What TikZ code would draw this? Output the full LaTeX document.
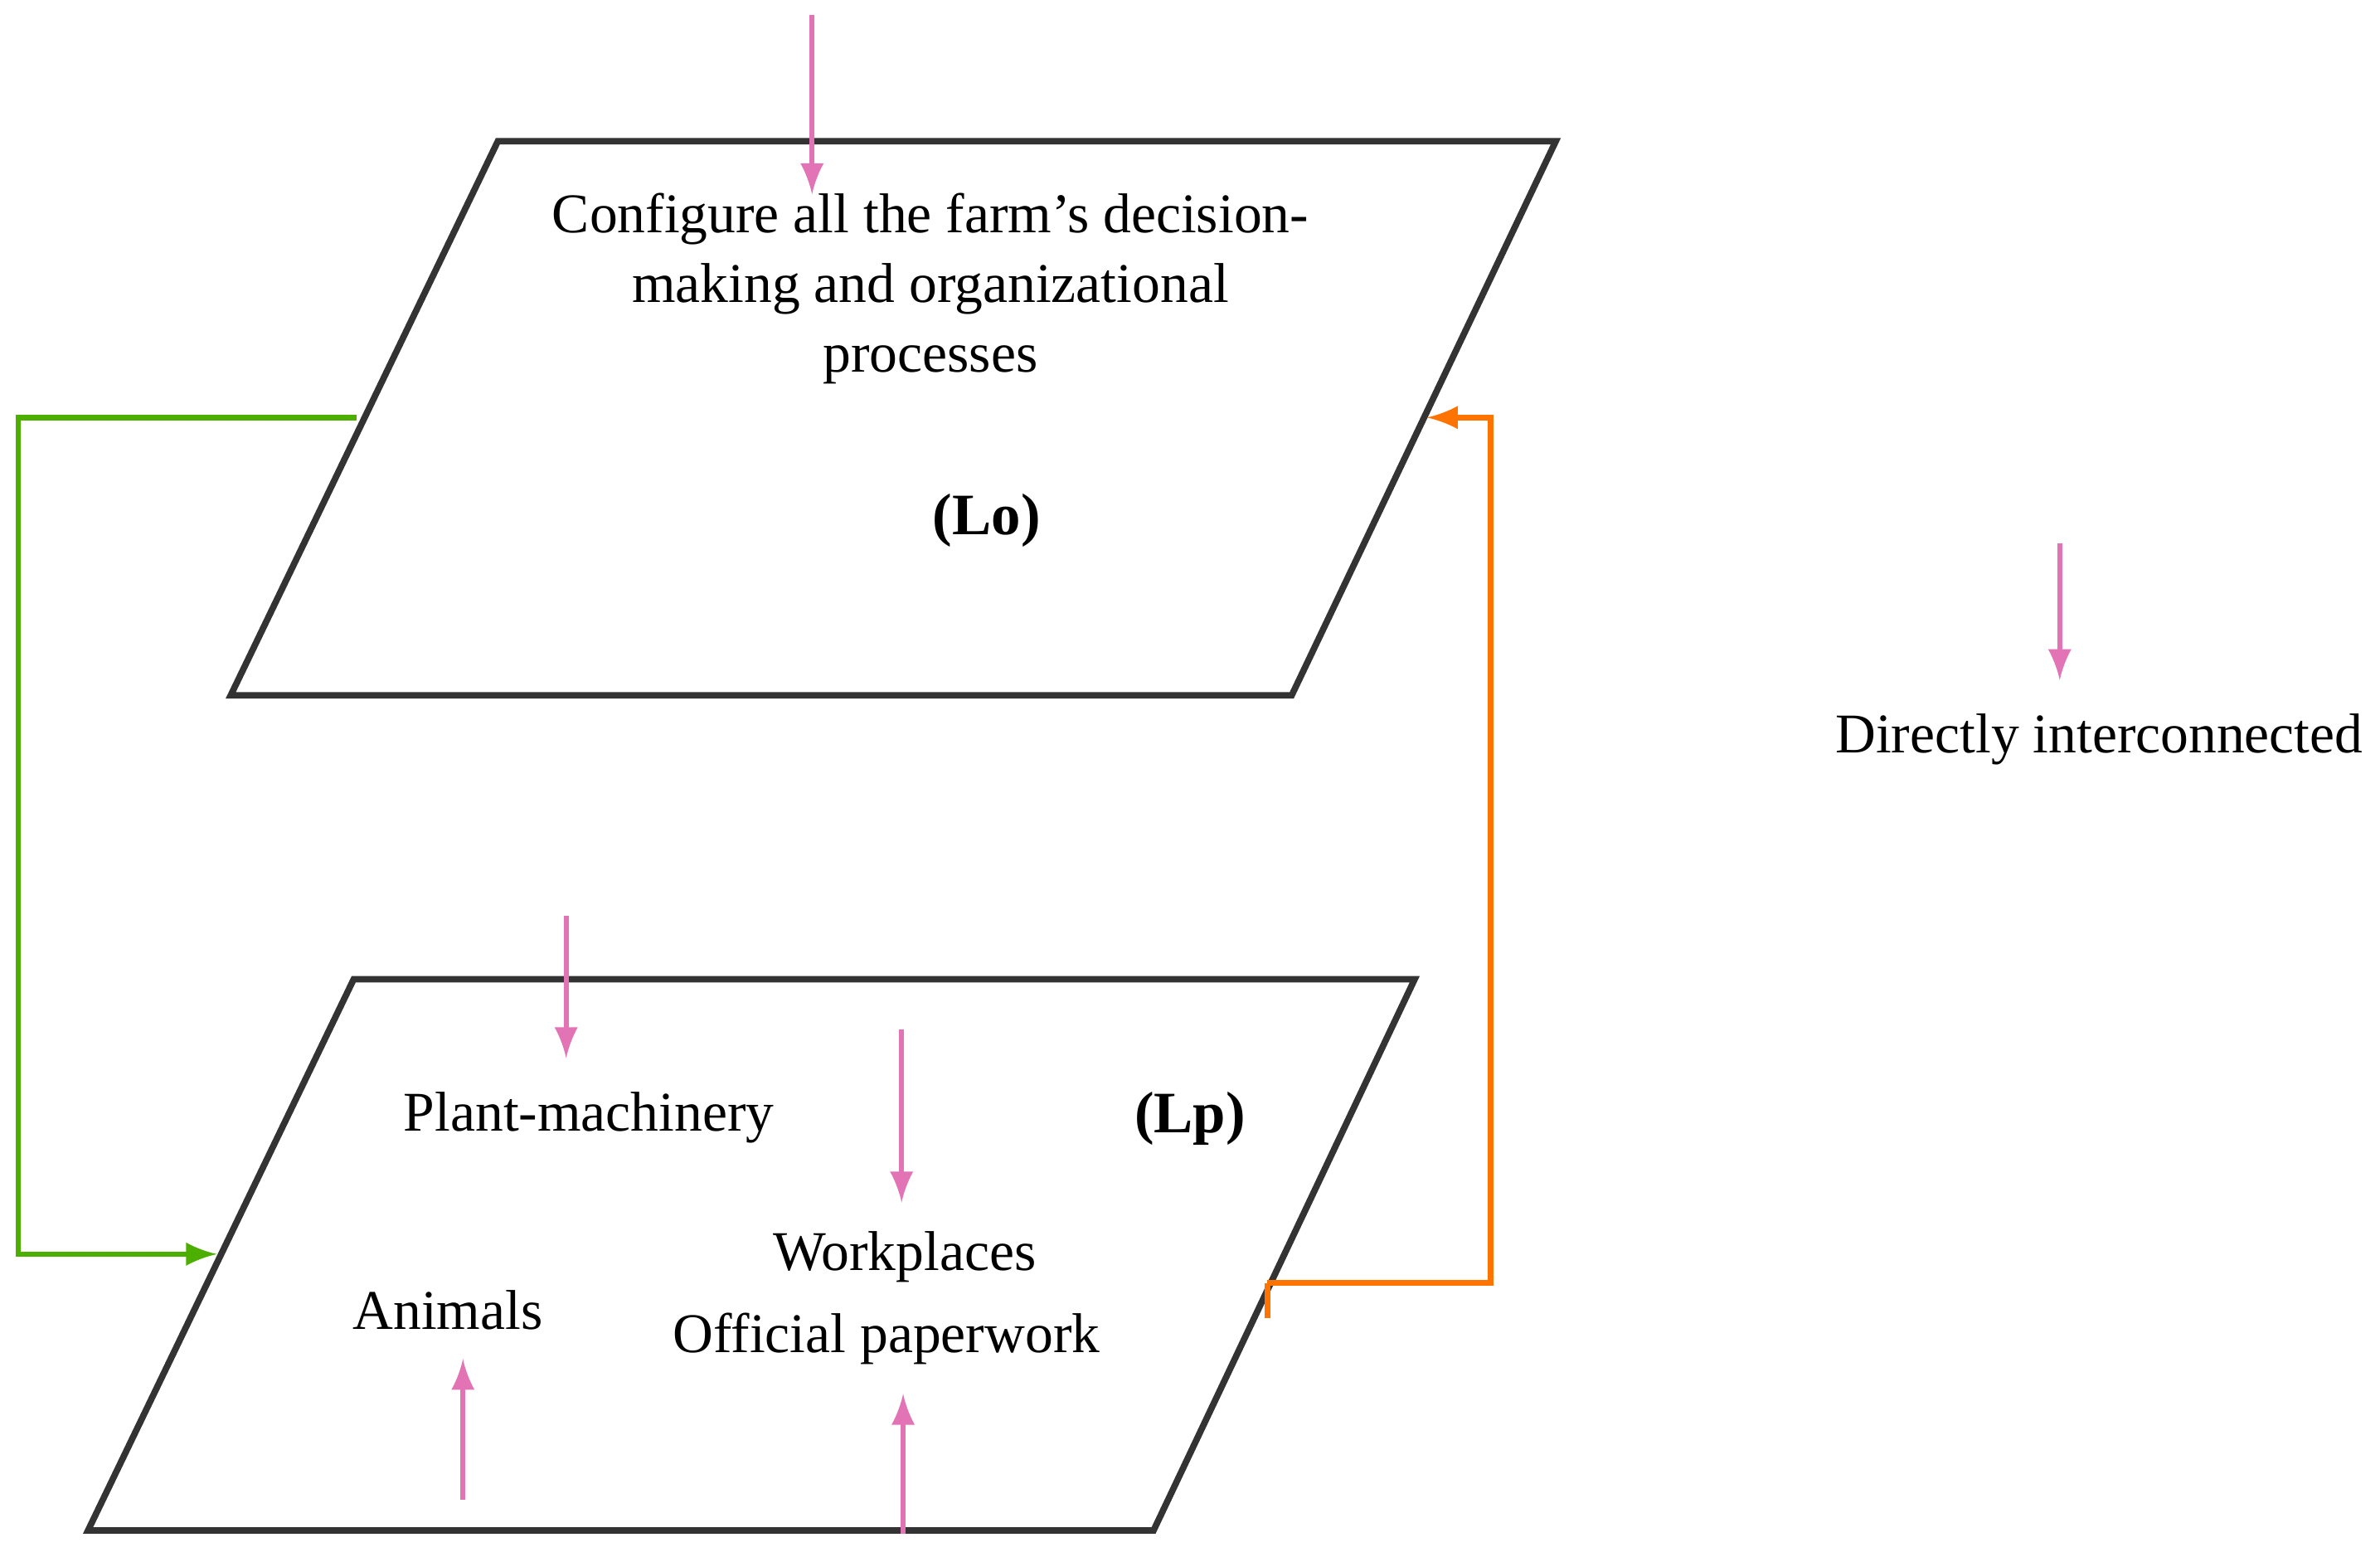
\documentclass[tikz,border=0pt]{standalone}
\usepackage{fontspec}
\setmainfont{Liberation Serif}
\begin{document}
\begin{tikzpicture}[x=0.01cm,y=-0.01cm,
  plane/.style={draw=black!80,line width=1.2pt},
  mag/.style={draw=magenta!70!violet!60,line width=1pt,-latex},
  lbl/.style={font=\fontsize{10.5}{13}\selectfont,inner sep=0pt,align=center},
  bl/.style={font=\fontsize{11}{13}\selectfont\bfseries,inner sep=0pt}]
\useasboundingbox (0,0) rectangle (1568,1025);
\draw[plane] (328,93) -- (1025,93) -- (851,458) -- (152,458) -- cycle;
\draw[plane] (233,645) -- (932,645) -- (760,1008) -- (58,1008) -- cycle;
\coordinate (t0) at (535,10); \coordinate (t1) at (535,128);
\draw[mag] (t0) -- (t1);
\node[lbl] (cfg) at (613,190) {Configure all the farm’s decision-\\making and organizational\\processes};
\node[bl] (lo) at (650,343) {(Lo)};
\node[lbl] (pm) at (388,736) {Plant-machinery};
\node[bl] (lp) at (784,737) {(Lp)};
\node[lbl] (wp) at (596,828) {Workplaces};
\node[lbl] (op) at (584,882) {Official paperwork};
\node[lbl] (an) at (295,863) {Animals};
\node[lbl] (leg) at (1383,487) {Directly interconnected};
\coordinate (l0) at (1357,358); \coordinate (l1) at (1357,448);
\draw[mag] (l0) -- (l1);
\coordinate (a0) at (373,603); \coordinate (a1) at (373,697);
\draw[mag] (a0) -- (a1);
\coordinate (b0) at (594,678); \coordinate (b1) at (594,792);
\draw[mag] (b0) -- (b1);
\coordinate (c0) at (305,988); \coordinate (c1) at (305,895);
\draw[mag] (c0) -- (c1);
\coordinate (d0) at (595,1010); \coordinate (d1) at (595,918);
\draw[mag] (d0) -- (d1);
\coordinate (g0) at (235,275); \coordinate (g1) at (143,826);
\draw[green!55!black!70!yellow,line width=1pt,-latex] (g0) -- (12,275) -- (12,826) -- (g1);
\coordinate (o0) at (835,845); \coordinate (o1) at (940,275);
\draw[orange!90!red,line width=1pt,-latex] (o0) -- (982,845) -- (982,275) -- (o1);
\draw[orange!90!red,line width=1pt] (835,845) -- (835,868);
\end{tikzpicture}
\end{document}
